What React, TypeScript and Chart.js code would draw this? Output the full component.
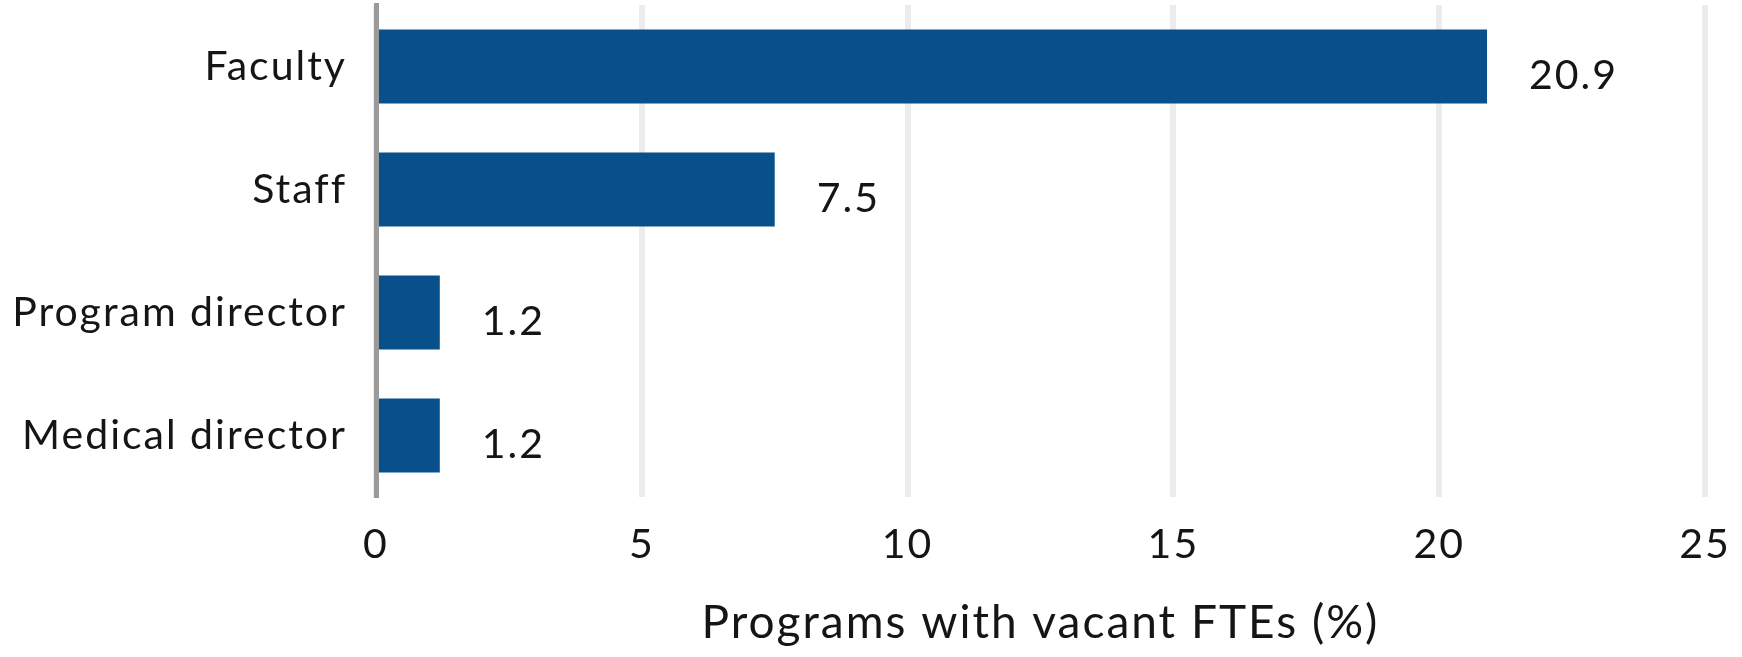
import React, { useEffect, useRef } from "react";
import { Chart, registerables } from "chart.js";

Chart.register(...registerables);

const categories: string[] = ["Faculty", "Staff", "Program director", "Medical director"];
const values: number[] = [20.9, 7.5, 1.2, 1.2];
const valueLabels: string[] = ["20.9", "7.5", "1.2", "1.2"];
const xTicks: number[] = [0, 5, 10, 15, 20, 25];
const xTitle = "Programs with vacant FTEs (%)";

const FONT = "Lato, 'Noto Sans', sans-serif";
const SPACING = "2px";

const spacingPlugin = {
  id: "spacing",
  beforeUpdate(chart: any) {
    chart.ctx.letterSpacing = SPACING;
  },
  beforeDraw(chart: any) {
    chart.ctx.letterSpacing = SPACING;
  },
};

const valueLabelPlugin = {
  id: "valueLabels",
  afterDatasetsDraw(chart: any) {
    const ctx = chart.ctx;
    const meta = chart.getDatasetMeta(0);
    ctx.save();
    ctx.letterSpacing = SPACING;
    ctx.font = `41px ${FONT}`;
    ctx.fillStyle = "#151515";
    ctx.textAlign = "left";
    ctx.textBaseline = "middle";
    meta.data.forEach((bar: any, i: number) => {
      ctx.fillText(valueLabels[i], bar.x + 42, bar.y + 9);
    });
    ctx.restore();
  },
};

export default function App() {
  const ref = useRef<HTMLCanvasElement | null>(null);
  useEffect(() => {
    if (!ref.current) return;
    const chart = new Chart(ref.current, {
      type: "bar",
      data: {
        labels: categories,
        datasets: [
          {
            data: values,
            backgroundColor: "#07508B",
            borderWidth: 0,
            categoryPercentage: 0.6,
            barPercentage: 1,
          },
        ],
      },
      options: {
        indexAxis: "y",
        animation: false,
        responsive: false,
        devicePixelRatio: 1,
        layout: { padding: { left: 0, right: 37, top: 5, bottom: 0 } },
        plugins: {
          legend: { display: false },
          tooltip: { enabled: false },
        },
        scales: {
          x: {
            type: "linear",
            min: 0,
            max: 25,
            afterBuildTicks: (scale: any) => {
              scale.ticks = xTicks.map((v) => ({ value: v }));
            },
            ticks: {
              stepSize: 5,
              padding: 23,
              color: "#151515",
              font: { family: FONT, size: 41 },
              maxRotation: 0,
            },
            grid: {
              color: "#ececec",
              lineWidth: 6,
              drawTicks: false,
            },
            border: { display: false },
            title: {
              display: true,
              text: xTitle,
              color: "#151515",
              font: { family: FONT, size: 46 },
              padding: { top: 0, bottom: 6 },
            },
            afterFit: (scale: any) => {
              scale.height = 160;
              scale.paddingLeft = 0;
              scale.paddingRight = 0;
            },
          },
          y: {
            z: 1,
            ticks: {
              padding: 29,
              color: "#151515",
              font: { family: FONT, size: 41 },
            },
            grid: { display: false, drawTicks: false },
            border: { display: true, color: "#9a9a9a", width: 5 },
            afterFit: (scale: any) => {
              scale.width = 376;
              scale.paddingTop = 0;
              scale.paddingBottom = 0;
            },
          },
        },
      },
      plugins: [spacingPlugin, valueLabelPlugin],
    } as any);
    return () => chart.destroy();
  }, []);
  return (
    <div style={{ position: "fixed", left: 0, top: 0, width: 1742, height: 657, background: "#fff" }}>
      <canvas ref={ref} width={1742} height={657} style={{ display: "block" }} />
    </div>
  );
}
